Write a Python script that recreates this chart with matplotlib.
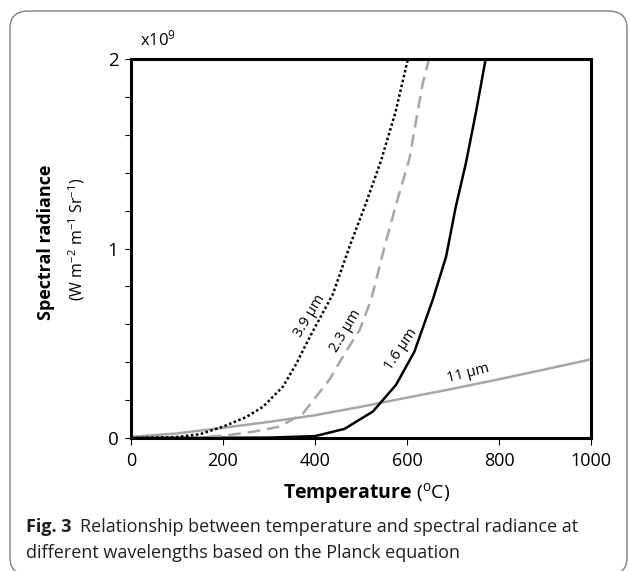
import numpy as np
import matplotlib
matplotlib.use("Agg")
import matplotlib.pyplot as plt
from matplotlib.patches import FancyBboxPatch

plt.rcParams['font.family'] = ['Open Sans', 'DejaVu Sans']
plt.rcParams['mathtext.fontset'] = 'custom'
plt.rcParams['mathtext.rm'] = 'Open Sans'
plt.rcParams['mathtext.bf'] = 'Open Sans:bold'
plt.rcParams['mathtext.it'] = 'Open Sans:italic'

# data (radiance in units of 1e9)
t_39 = [0, 100, 150, 200, 250, 287, 330, 359, 388, 439, 475, 511, 544, 575, 602]
r_39 = [0, 0.005, 0.02, 0.06, 0.11, 0.165, 0.27, 0.39, 0.53, 0.76, 1.01, 1.24, 1.467, 1.72, 2.0]

t_23 = [0, 150, 215, 270, 323, 374, 432, 468, 497, 522, 555, 583, 605, 634, 648]
r_23 = [0, 0.003, 0.016, 0.035, 0.06, 0.13, 0.31, 0.46, 0.57, 0.73, 1.045, 1.29, 1.47, 1.87, 2.0]

t_16 = [0, 300, 400, 464, 526, 576, 616, 656, 685, 706, 728, 750, 771]
r_16 = [0, 0.002, 0.01, 0.048, 0.14, 0.28, 0.455, 0.73, 0.957, 1.22, 1.45, 1.72, 2.0]

t_11 = [0, 100, 200, 300, 400, 500, 600, 700, 800, 900, 1000]
r_11 = [0.006, 0.024, 0.054, 0.085, 0.12, 0.165, 0.213, 0.26, 0.31, 0.362, 0.415]

labels = ["3.9 µm", "2.3 µm", "1.6 µm", "11 µm"]
label_pos = [(388, 0.645), (467, 0.565), (586, 0.47), (732, 0.34)]
label_rot = [59, 59, 56, 14]

W, H = 630, 571
fig = plt.figure(figsize=(W/100, H/100), dpi=100)

# rounded frame round the figure
frame = FancyBboxPatch((10/W, 1 - 575/H), 617/W, 564/H,
                       boxstyle="round,pad=0,rounding_size=0.03",
                       transform=fig.transFigure, fill=False,
                       edgecolor="#7f7f7f", lw=1.0)
fig.patches.append(frame)

ax = fig.add_axes([131/W, 1 - 438/H, 460/W, 379/H])

ax.plot(t_11, r_11, color="#a6a6a6", lw=1.8, solid_capstyle="butt")
ax.plot(t_16, r_16, color="black", lw=1.8)
ax.plot(t_23, r_23, color="#a6a6a6", lw=1.8, dashes=(5, 2.8))
ax.plot(t_39, r_39, color="black", lw=1.8, dashes=(1, 1))

for txt, (x, y), rot in zip(labels, label_pos, label_rot):
    ax.text(x, y, txt, rotation=rot, ha="center", va="center",
            fontsize=10.5, rotation_mode="anchor")

ax.set_xlim(0, 1000)
ax.set_ylim(0, 2)
ax.set_xticks([0, 200, 400, 600, 800, 1000])
ax.set_yticks([0, 1, 2])
ax.set_yticks(np.arange(0.2, 2.0, 0.2), minor=True)
ax.tick_params(axis="x", direction="out", length=5, width=0.8, labelsize=13, pad=5)
ax.tick_params(axis="y", which="both", direction="out", length=4, width=0.8,
               labelsize=13.5, pad=5)
for s in ax.spines.values():
    s.set_linewidth(2.2)

fig.text(140/W, 1 - 39/H, r"x10$^{9}$", fontsize=12, ha="left", va="center")
fig.text(46/W, 1 - 242/H, "Spectral radiance", rotation=90, fontsize=13,
         fontweight="bold", ha="center", va="center")
fig.text(77/W, 1 - 239/H, r"(W m$^{-2}$ m$^{-1}$ Sr$^{-1}$)", rotation=90,
         fontsize=11.5, ha="center", va="center")
fig.text(367/W, 1 - 493/H, r"$\mathbf{Temperature}$ ($^{\mathrm{o}}$C)",
         fontsize=14, ha="center", va="center")

# caption: bold "Fig. 3" then normal text right after it
cap_col = "#231f20"
fig_lbl = fig.text(26/W, 1 - 527/H, "Fig. 3", fontsize=13, fontweight="bold",
                   ha="left", va="center", color=cap_col)
r = fig.canvas.get_renderer()
bb = fig_lbl.get_window_extent(renderer=r)
fig.text((bb.x1 + 9)/W, 1 - 527/H,
         "Relationship between temperature and spectral radiance at",
         fontsize=13, ha="left", va="center", color=cap_col)
fig.text(26/W, 1 - 553/H, "different wavelengths based on the Planck equation",
         fontsize=13, ha="left", va="center", color=cap_col)

fig.savefig("out.png", dpi=100)
